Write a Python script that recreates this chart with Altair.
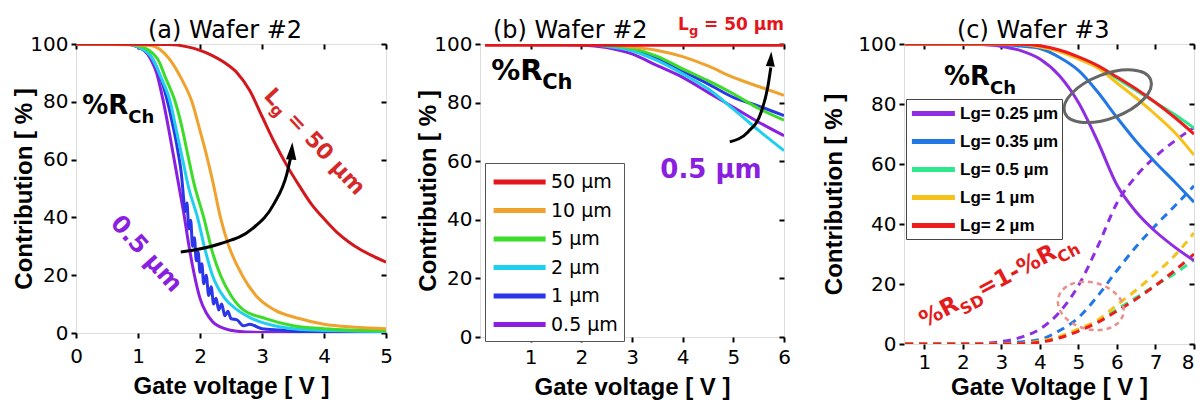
import altair as alt
import pandas as pd

# ---------------- Panel (a): Wafer #2, %R_Ch vs gate voltage ----------------
A_LABELS = ["0.5 µm", "1 µm", "2 µm", "5 µm", "10 µm", "50 µm"]
A_COLORS = ["#8a1fe0", "#2a36e8", "#1fcfee", "#3ddc2a", "#f0a22e", "#d3181c"]

a05_x = [0, 0.8, 1.0, 1.2, 1.3, 1.4, 1.5, 1.6, 1.7, 1.75, 1.8, 1.9, 2.0, 2.1, 2.2, 2.4, 2.6, 3.0, 4.0, 5.0]
a05_y = [100, 100, 99, 95, 90, 81, 70, 58, 46, 40, 33, 21, 12, 7, 4, 1.5, 0.6, 0.2, 0.05, 0]

a1_x = [0, 0.8, 1.0, 1.2, 1.3, 1.4, 1.5, 1.55, 1.6, 1.65, 1.7, 1.73, 1.76, 1.79, 1.82, 1.85, 1.88, 1.91,
        1.94, 1.97, 2.0, 2.03, 2.06, 2.1, 2.14, 2.18, 2.22, 2.26, 2.3, 2.35, 2.4, 2.45, 2.5, 2.6, 2.7,
        2.8, 3.0, 3.3, 3.6, 4.0, 4.5, 5.0]
a1_y = [100, 100, 99, 96, 92, 86, 78, 73, 68, 62, 55, 48, 42, 45, 36, 39, 30, 33, 25, 28, 21, 24, 17,
        20, 13, 16, 10, 12, 8, 10, 6, 7.5, 5, 4.5, 2.5, 3, 1.5, 1, 0.5, 0.3, 0.2, 0.1]

a2_x = [0, 0.8, 1.0, 1.23, 1.38, 1.52, 1.62, 1.72, 1.82, 1.96, 2.08, 2.2, 2.4, 2.6, 2.84, 3.2, 3.8, 5.0]
a2_y = [100, 100, 99, 95, 88, 80, 70, 60, 50, 40, 29, 20, 12, 8, 5, 2.5, 1, 0.5]

a5_x = [0, 0.8, 1.0, 1.31, 1.45, 1.6, 1.7, 1.8, 1.9, 2.06, 2.2, 2.33, 2.5, 2.7, 3.06, 3.5, 4.0, 5.0]
a5_y = [100, 100, 99.5, 95, 88, 80, 72, 62, 52, 40, 28, 20, 13, 8, 5, 2.5, 1.5, 0.8]

a10_x = [0, 1.2, 1.5, 1.7, 1.87, 2.0, 2.1, 2.2, 2.33, 2.45, 2.68, 2.9, 3.2, 3.6, 4.0, 4.5, 5.0]
a10_y = [100, 99.5, 95, 88, 80, 70, 62, 53, 40, 31, 20, 13, 8, 5, 3, 2, 1.5]

a50_x = [0, 1.5, 1.8, 2.0, 2.2, 2.4, 2.6, 2.8, 3.0, 3.2, 3.4, 3.6, 3.8, 4.0, 4.2, 4.4, 4.6, 4.8, 5.0]
a50_y = [100, 99.8, 99, 97.8, 96, 93.5, 90, 84, 75, 66, 58, 51, 44.5, 39.5, 35, 31.5, 28.7, 26.5, 24.5]

arrow_a_x = [1.69, 2.31, 2.84, 3.19, 3.40, 3.46]
arrow_a_y = [28.0, 30.8, 36.0, 44.6, 55.0, 60.5]
head_a = (3.48, 63.0)

# ---------------- Panel (b): Wafer #2, zoomed ----------------
B_LABELS = ["50 µm", "10 µm", "5 µm", "2 µm", "1 µm", "0.5 µm"]
B_COLORS = ["#e3161b", "#f0a22e", "#3ddc2a", "#1fcfee", "#2a36e8", "#8a1fe0"]

b_x = [0.1, 1, 2, 2.5, 3, 3.5, 4, 4.5, 5, 5.5, 6]
b50_y = [99.6, 99.6, 99.6, 99.6, 99.6, 99.6, 99.6, 99.6, 99.6, 99.6, 99.6]
b10_y = [100, 100, 100, 99.8, 99, 97.8, 95.7, 92.5, 88.6, 85.5, 82.5]
b5_y = [100, 100, 100, 99.6, 98.5, 95.8, 91.5, 87.5, 83, 78, 74]
b2_y = [100, 100, 99.8, 99.2, 97.7, 94.3, 89.8, 84.7, 77.8, 70.5, 63.6]
b1_y = [100, 100, 100, 99.5, 98, 95, 90.7, 86.4, 81.8, 78.8, 75.6]
b05_y = [100, 100, 99.7, 98.8, 96.6, 92.6, 88.6, 83.5, 78.4, 73.3, 68.7]

arrow_b_x = [4.93, 5.29, 5.55, 5.68, 5.74]
arrow_b_y = [66.6, 70.0, 76.8, 85.3, 92.0]
head_b = (5.74, 94.9)

# ---------------- Panel (c): Wafer #3 ----------------
C_LABELS = ["Lg= 0.25 µm", "Lg= 0.35 µm", "Lg= 0.5 µm", "Lg= 1 µm", "Lg= 2 µm"]
C_COLORS = ["#8e2de2", "#2277e6", "#2ee88e", "#f6c21a", "#ee1c1c"]

c_x = [0.5, 1, 2, 2.5, 3, 3.5, 4, 4.5, 5, 5.5, 6, 6.5, 7, 7.5, 8]
c025_y = [100, 100, 100, 99.8, 99.2, 97.8, 95.0, 89.5, 80.5, 67.5, 53, 44, 37.5, 32.3, 27.8]
c035_y = [100, 100, 100, 100, 99.8, 99.3, 98.5, 95.6, 91.2, 84, 75.5, 67.5, 60.5, 54, 47.3]
c05_y = [100, 100, 100, 100, 100, 99.9, 99.3, 97.8, 95.5, 92.5, 88.5, 84.5, 80.5, 76.5, 72]
c1_y = [100, 100, 100, 100, 100, 99.8, 99.0, 97.5, 95, 92, 87, 82, 76.5, 70.5, 63]
c2_y = [100, 100, 100, 100, 100, 99.9, 99.4, 98, 95.7, 92.8, 89, 85, 80.5, 75.5, 70]

ellipse_gray = (5.76, 82.6)
ellipse_pink = (5.32, 12.7)

Y_TICKS = [0, 20, 40, 60, 80, 100]

FONT_REG = "DejaVu Sans"
FONT_AX = "Liberation Sans"
FONT_ANN = "DejaVu Sans"


def long_df(groups, key):
    rows = []
    for lab, xs, ys in groups:
        for i, (xv, yv) in enumerate(zip(xs, ys)):
            rows.append({"v": xv, "c": yv, key: lab, "i": i})
    return pd.DataFrame(rows)


def axis_x(values, title="Gate voltage [ V ]", tpad=18, lpad=3, flush=False):
    return alt.Axis(values=values, title=title, grid=False, domain=False, tickColor="black",
                    tickWidth=2, tickSize=5, labelFont=FONT_REG, labelFontSize=20, labelColor="black",
                    labelPadding=lpad, titleFont=FONT_AX, titleFontSize=24, titleFontWeight="bold",
                    titleColor="black", titlePadding=tpad, labelFlush=flush)


def axis_y(tpad=-7):
    return alt.Axis(values=Y_TICKS, title="Contribution [ % ]", grid=False,
                    domain=False, tickColor="black", tickWidth=2, tickSize=5, labelFont=FONT_REG,
                    labelFontSize=20, labelColor="black", labelPadding=3, titleFont=FONT_AX,
                    titleFontSize=24, titleFontWeight="bold", titleColor="black", titlePadding=tpad,
                    labelFlush=False)


def mirror(orient, values):
    return alt.Axis(orient=orient, values=values, labels=False, title=None, domain=False,
                    grid=False, ticks=True, tickSize=5, tickWidth=2, tickColor="black", offset=-5)


def encodings(domain, xvals, xaxis, yaxis):
    sx = alt.Scale(domain=domain, nice=False)
    sy = alt.Scale(domain=[0, 100], nice=False)
    return dict(
        X=alt.X("v:Q", scale=sx, axis=xaxis),
        Xn=alt.X("v:Q", scale=sx, axis=None),
        Xt=alt.X("v:Q", scale=sx, axis=mirror("top", xvals)),
        Y=alt.Y("c:Q", scale=sy, axis=yaxis),
        Yn=alt.Y("c:Q", scale=sy, axis=None),
        Yr=alt.Y("c:Q", scale=sy, axis=mirror("right", Y_TICKS)),
    )


def txt(X, Y, x, y, s, size, color, angle=0, dx=0, dy=0, align="left", baseline="alphabetic",
        font=FONT_ANN):
    d = pd.DataFrame({"v": [x], "c": [y], "t": [s]})
    return alt.Chart(d).mark_text(fontSize=size, font=font, fontWeight="bold", color=color,
                                  angle=angle, dx=dx, dy=dy, align=align, baseline=baseline
                                  ).encode(x=X, y=Y, text="t:N")


def arrow(X, Y, xs, ys, head, hsize):
    d = pd.DataFrame({"v": xs, "c": ys, "i": list(range(len(xs)))})
    line = alt.Chart(d).mark_line(color="black", strokeWidth=3, interpolate="monotone").encode(
        x=X, y=Y, order="i:Q")
    hd = pd.DataFrame({"v": [head[0]], "c": [head[1]]})
    tip = alt.Chart(hd).mark_point(shape="M0,-1L0.6,1L-0.6,1Z", filled=True, color="black",
                                   size=hsize, opacity=1, angle=4).encode(x=X, y=Y)
    return [line, tip]


def title(s, dx, off=-9):
    return alt.TitleParams(s, anchor="start", frame="group", dx=dx, font=FONT_REG, fontSize=24,
                           fontWeight="normal", color="black", offset=off)


# ---------- panel a ----------
ea = encodings([0, 5], [0, 1, 2, 3, 4, 5], axis_x([0, 1, 2, 3, 4, 5], tpad=8, lpad=8), axis_y())
df_a = long_df([("0.5 µm", a05_x, a05_y), ("1 µm", a1_x, a1_y), ("2 µm", a2_x, a2_y),
                ("5 µm", a5_x, a5_y), ("10 µm", a10_x, a10_y), ("50 µm", a50_x, a50_y)], "la")
lines_a = alt.Chart(df_a).mark_line(strokeWidth=3, clip=True, interpolate="monotone").encode(
    x=ea["X"], y=ea["Y"], order="i:Q",
    color=alt.Color("la:N", scale=alt.Scale(domain=A_LABELS, range=A_COLORS), legend=None))

red_a = "#d42a2a"
purple = "#8a1fe0"
Xn, Yn = ea["Xn"], ea["Yn"]
panel_a = alt.layer(
    lines_a,
    *arrow(Xn, Yn, arrow_a_x, arrow_a_y, head_a, 300),
    txt(ea["Xt"], ea["Yr"], 0.1, 75.8, "%R", 26, "black"),
    txt(Xn, Yn, 0.1, 75.8, "Ch", 18, "black", dx=46, dy=9),
    txt(Xn, Yn, 1.13, 27.3, "0.5 µm", 24, purple, angle=48, align="center", baseline="middle"),
    txt(Xn, Yn, 3.10, 83.5, "L", 22, red_a, angle=47, baseline="middle"),
    txt(Xn, Yn, 3.10, 83.5, "g", 16, red_a, angle=47, baseline="middle", dx=14, dy=7),
    txt(Xn, Yn, 3.10, 83.5, "= 50 µm", 22, red_a, angle=47, baseline="middle", dx=33),
).resolve_axis(x="independent", y="independent").properties(
    width=310, height=289, title=title("(a) Wafer #2", 72))

# ---------- panel b ----------
eb = encodings([0, 6], [1, 2, 3, 4, 5, 6], axis_x([1, 2, 3, 4, 5, 6], tpad=8, lpad=5), axis_y())
df_b = long_df([("0.5 µm", b_x, b05_y), ("1 µm", b_x, b1_y), ("2 µm", b_x, b2_y),
                ("5 µm", b_x, b5_y), ("10 µm", b_x, b10_y), ("50 µm", b_x, b50_y)], "lb")
legend_b = alt.Legend(orient="none", legendX=5, legendY=119, title=None,
                      symbolType="M-1,0H4", symbolSize=433, symbolStrokeWidth=5,
                      rowPadding=5.5, labelFont=FONT_REG, labelFontSize=19, labelColor="black",
                      labelOffset=34, strokeColor="#555", fillColor="white", padding=6)
lines_b = alt.Chart(df_b).mark_line(strokeWidth=3, clip=True, interpolate="monotone").encode(
    x=eb["X"], y=eb["Y"], order="i:Q",
    color=alt.Color("lb:N", scale=alt.Scale(domain=B_LABELS, range=B_COLORS), legend=legend_b))
red_b = "#e3161b"
Xn, Yn = eb["Xn"], eb["Yn"]
panel_b = alt.layer(
    lines_b,
    *arrow(Xn, Yn, arrow_b_x, arrow_b_y, head_b, 225),
    txt(eb["Xt"], eb["Yr"], 0.22, 87.7, "%R", 29, "black"),
    txt(Xn, Yn, 0.22, 87.7, "Ch", 21, "black", dx=51, dy=9),
    txt(Xn, Yn, 4.56, 57, "0.5 µm", 26, purple, align="center", baseline="middle"),
    txt(Xn, Yn, 3.91, 104.8, "L", 17, red_b),
    txt(Xn, Yn, 3.91, 104.8, "g", 13, red_b, dx=11, dy=5),
    txt(Xn, Yn, 3.91, 104.8, "= 50 µm", 17, red_b, dx=26),
).resolve_axis(x="independent", y="independent").properties(
    width=304, height=293, title=title("(b) Wafer #2", 13, off=-27))

# ---------- panel c ----------
ec = encodings([0.47, 8], [1, 2, 3, 4, 5, 6, 7, 8],
               axis_x([1, 2, 3, 4, 5, 6, 7, 8], "Gate Voltage [ V ]", tpad=3, lpad=3, flush=1),
               axis_y(tpad=11))
Yc_sd = alt.Y("sd:Q", scale=alt.Scale(domain=[0, 100], nice=False), axis=None)
df_c = long_df([("Lg= 0.25 µm", c_x, c025_y), ("Lg= 0.35 µm", c_x, c035_y),
                ("Lg= 0.5 µm", c_x, c05_y), ("Lg= 1 µm", c_x, c1_y), ("Lg= 2 µm", c_x, c2_y)], "lc")
col_c = alt.Scale(domain=C_LABELS, range=C_COLORS)
legend_c = alt.Legend(orient="none", legendX=2, legendY=55, title=None,
                      symbolType="M-1,0H4", symbolSize=296, symbolStrokeWidth=5,
                      rowPadding=6, labelFont=FONT_AX, labelFontWeight="bold", labelFontSize=17,
                      labelColor="black", labelOffset=28, strokeColor="#444",
                      fillColor="white", padding=3)
lines_c = alt.Chart(df_c).mark_line(strokeWidth=3, clip=True, interpolate="monotone").encode(
    x=ec["X"], y=ec["Y"], order="i:Q", color=alt.Color("lc:N", scale=col_c, legend=legend_c))
Xn, Yn = ec["Xn"], ec["Yn"]
dash_c = alt.Chart(df_c).transform_calculate(sd="100 - datum.c").mark_line(
    strokeWidth=3, strokeDash=[8, 6], clip=True, interpolate="monotone").encode(
    x=Xn, y=Yc_sd, order="i:Q", color=alt.Color("lc:N", scale=col_c, legend=legend_c))

ell_g = alt.Chart(pd.DataFrame({"v": [ellipse_gray[0]], "c": [ellipse_gray[1]]})).mark_point(
    shape="M-1,0A1,0.48 0 1,1 1,0A1,0.48 0 1,1 -1,0Z", filled=False, size=8464, angle=339,
    color="#666666", strokeWidth=3, opacity=1).encode(x=Xn, y=Yn)
ell_p = alt.Chart(pd.DataFrame({"v": [ellipse_pink[0]], "c": [ellipse_pink[1]]})).mark_point(
    shape="M-1,0A1,0.7 0 1,1 1,0A1,0.7 0 1,1 -1,0Z", filled=False, size=4489, angle=15,
    color="#e8908a", strokeWidth=2.5, strokeDash=[5, 4], opacity=1).encode(x=Xn, y=Yn)

red_c = "#e41c1c"
panel_c = alt.layer(
    dash_c, lines_c, ell_g, ell_p,
    txt(ec["Xt"], ec["Yr"], 1.51, 86.2, "%R", 26, "black"),
    txt(Xn, Yn, 1.51, 86.2, "Ch", 18, "black", dx=46, dy=9),
    txt(Xn, Yn, 1.0, 5.3, "%R", 23, red_c, angle=332),
    txt(Xn, Yn, 1.0, 5.3, "SD", 16, red_c, angle=332, dx=40.8, dy=7),
    txt(Xn, Yn, 1.0, 5.3, "=1-%R", 23, red_c, angle=332, dx=65.6),
    txt(Xn, Yn, 1.0, 5.3, "Ch", 16, red_c, angle=332, dx=151, dy=7),
).resolve_axis(x="independent", y="independent").properties(
    width=290, height=300, title=title("(c) Wafer #3", 53))

chart = alt.hconcat(
    alt.hconcat(panel_a, panel_b, spacing=23).resolve_scale(color="independent"),
    panel_c, spacing=31
).resolve_scale(color="independent").properties(
    padding={"left": 4, "top": 7, "right": 0, "bottom": 0}
).configure_view(stroke="black", strokeWidth=3).configure(background="white")

chart.save("out.html", embed_options={"renderer": "svg", "actions": False})
